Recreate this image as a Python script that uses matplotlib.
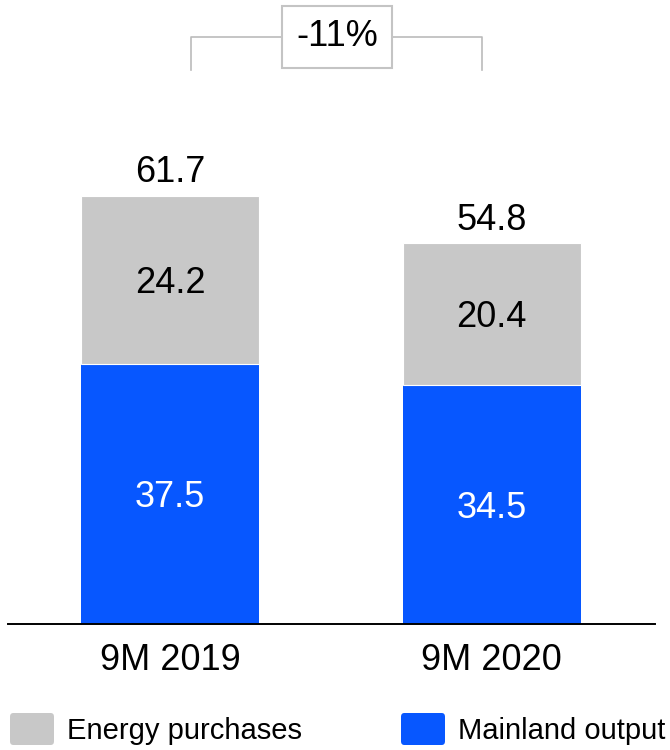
import matplotlib
matplotlib.use('Agg')
import matplotlib.pyplot as plt
from matplotlib.patches import FancyBboxPatch
import numpy as np

categories = ['9M 2019', '9M 2020']
mainland = [37.5, 34.5]
energy = [24.2, 20.4]
totals = [61.7, 54.8]
change_label = '-11%'

blue = '#0757FF'
grey = '#C8C8C8'

plt.rcParams['font.family'] = ['Liberation Sans', 'DejaVu Sans']

W, H, dpi = 670, 750, 100
fig = plt.figure(figsize=(W / dpi, H / dpi), dpi=dpi)

# axes layout in pixels: baseline at y=624 from top, 6.94 px per unit
base_px = 624
px_per_unit = 6.94
ax = fig.add_axes([0, (H - base_px) / H, 1, base_px / H])
spacing = 321.5
x0 = 170
ax.set_xlim((0 - x0) / spacing, (W - x0) / spacing)
ax.set_ylim(0, base_px / px_per_unit)
ax.axis('off')

x = np.arange(len(categories))
width = 178 / spacing
ax.bar(x, mainland, width, color=blue, edgecolor='none')
ax.bar(x, energy, width, bottom=mainland, color=grey, edgecolor='white', linewidth=0.8)

# baseline
ax.plot([(8 - x0) / spacing, (655 - x0) / spacing], [0, 0], color='black', lw=1.4, clip_on=False)

fs = 26
for i in range(len(categories)):
    ax.text(x[i], mainland[i] / 2, f'{mainland[i]:.1f}', ha='center', va='center_baseline',
            color='white', fontsize=fs)
    ax.text(x[i], mainland[i] + energy[i] / 2, f'{energy[i]:.1f}', ha='center', va='center_baseline',
            color='black', fontsize=fs)
    ax.annotate(f'{totals[i]:.1f}', (x[i], totals[i]), xytext=(0, 4), textcoords='offset points',
                ha='center', va='bottom', fontsize=fs)
    ax.text(x[i], -2.8, categories[i], ha='center', va='top', fontsize=fs)

# bracket with change box
yb = (base_px - 37) / px_per_unit
yb_low = (base_px - 70) / px_per_unit
xl, xr = (191 - x0) / spacing, (482 - x0) / spacing
bc = '#BBBBBB'
ax.plot([xl, xl, xr, xr], [yb_low, yb, yb, yb_low], color=bc, lw=1.2, clip_on=False, zorder=1)
ax.text((337 - x0) / spacing, yb, change_label, ha='center', va='center', fontsize=fs,
        zorder=3, bbox=dict(boxstyle='square,pad=0.38', fc='white', ec='#C4C4C4', lw=1.5))

# legend drawn by hand (pixel positions measured from top)
def legend_item(xp, color, label):
    fig.add_artist(FancyBboxPatch((xp / W, 1 - 745 / H), 44 / W, 32 / H,
                                  boxstyle='round,pad=0,rounding_size=0.005',
                                  transform=fig.transFigure, fc=color, ec='none'))
    fig.text((xp + 57) / W, 1 - 731 / H, label, ha='left', va='center', fontsize=21)

legend_item(10, grey, 'Energy purchases')
legend_item(401, blue, 'Mainland output')

fig.savefig('out.png', dpi=dpi)
